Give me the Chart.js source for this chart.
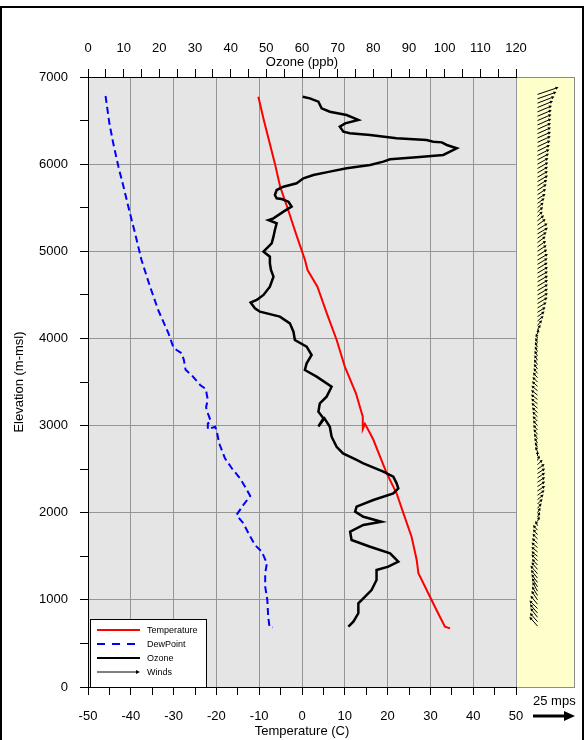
<!DOCTYPE html>
<html>
<head>
<meta charset="utf-8">
<title>Sounding</title>
<script src="https://cdn.jsdelivr.net/npm/chart.js@4.4.1/dist/chart.umd.min.js"></script>
<style>
  body { margin: 0; background: #fff; overflow: hidden; }
  #frame { position: absolute; left: 0; top: 6px; width: 580px; height: 732px; border: 2px solid #000; border-bottom: none; }
  #soundingChart { position: absolute; left: 0; top: 0; }
</style>
</head>
<body>
<div id="frame"></div>
<canvas id="soundingChart" width="586" height="740"></canvas>
<script>
// Temperature (C) against elevation (m-msl)
const tempAlt = [6774, 6500, 6250, 6000, 5741, 5500, 5200, 4900, 4785, 4594, 4288, 3982, 3676, 3370, 3102, 2960, 3020, 2911, 2834, 2624, 2452, 2223, 1993, 1725, 1457, 1305, 1036, 846, 692, 673];
const tempVal = [-10.2, -8.9, -7.6, -6.3, -5.1, -3.4, -1.4, 0.7, 1.3, 3.6, 5.8, 8.1, 10.0, 12.6, 14.2, 14.2, 14.7, 15.9, 16.7, 18.4, 19.8, 22.1, 23.7, 25.6, 26.8, 27.2, 29.9, 31.8, 33.4, 34.6];

// Dew point (C)
const dewAlt = [6782, 6469, 6239, 5972, 5741, 5436, 5206, 4900, 4594, 4326, 4059, 3905, 3867, 3829, 3752, 3640, 3580, 3466, 3416, 3370, 3294, 3217, 3179, 3102, 3045, 3025, 2957, 2987, 2930, 2834, 2777, 2624, 2510, 2395, 2299, 2192, 2089, 1974, 1879, 1764, 1630, 1553, 1420, 1305, 1151, 998, 807, 692, 685];
const dewVal = [-45.9, -45.0, -44.1, -42.9, -41.7, -40.2, -39.0, -37.5, -35.5, -33.6, -31.2, -30.1, -29.3, -28.1, -27.6, -27.2, -25.8, -23.8, -22.4, -22.3, -22.0, -22.4, -22.3, -21.7, -21.3, -22.0, -22.0, -20.3, -19.9, -19.5, -19.2, -18.0, -16.4, -14.5, -13.3, -12.1, -13.7, -15.3, -13.7, -12.5, -11.0, -9.4, -8.2, -8.6, -8.6, -8.1, -7.9, -7.6, -6.8];

// Ozone (ppb)
const ozoneAlt = [6774, 6755, 6717, 6640, 6602, 6564, 6507, 6468, 6430, 6373, 6354, 6335, 6296, 6277, 6258, 6250, 6220, 6182, 6143, 6105, 6078, 6055, 6029, 5991, 5952, 5914, 5876, 5837, 5780, 5741, 5703, 5646, 5608, 5600, 5569, 5512, 5455, 5378, 5359, 5321, 5244, 5168, 5091, 4995, 4938, 4861, 4785, 4709, 4594, 4499, 4441, 4411, 4346, 4307, 4250, 4173, 4078, 3982, 3905, 3810, 3714, 3638, 3561, 3446, 3332, 3255, 3159, 3083, 2990, 3083, 2987, 2872, 2757, 2681, 2605, 2567, 2471, 2413, 2340, 2279, 2222, 2146, 2069, 2012, 1954, 1897, 1859, 1782, 1687, 1610, 1534, 1438, 1381, 1343, 1228, 1113, 1018, 960, 846, 749, 692];
const ozoneVal = [60.2, 62.2, 64.6, 65.5, 67.8, 72.5, 75.8, 72.1, 70.6, 71.6, 73.4, 79.1, 86.5, 94.9, 96.8, 99.2, 100.6, 103.4, 101.5, 99.6, 92.1, 84.7, 82.8, 79.1, 72.5, 67.8, 63.2, 60.4, 58.5, 54.8, 52.9, 52.4, 52.9, 54.3, 56.2, 57.1, 54.8, 52.0, 50.6, 52.9, 52.4, 52.0, 51.5, 49.2, 51.0, 51.0, 51.3, 52.0, 51.0, 49.2, 47.3, 45.6, 46.8, 48.2, 53.8, 56.6, 57.6, 58.0, 61.3, 62.7, 61.3, 60.8, 64.1, 68.3, 66.9, 65.0, 64.6, 66.0, 64.6, 66.3, 67.8, 68.3, 69.7, 71.5, 75.3, 77.2, 82.8, 85.6, 86.5, 87.0, 85.6, 80.0, 75.3, 74.9, 77.2, 82.3, 77.2, 73.5, 73.9, 79.1, 84.7, 87.0, 84.2, 80.9, 80.9, 79.5, 77.2, 75.8, 75.8, 74.4, 73.0];

// Winds: east (u) and north (v) components in mps
const windAlt = [
  700, 750, 800, 850, 900, 950, 1000, 1050, 1100, 1150,
  1200, 1250, 1300, 1350, 1400, 1450, 1500, 1550, 1600, 1650,
  1700, 1750, 1800, 1850, 1900, 1950, 2000, 2050, 2100, 2150,
  2200, 2250, 2300, 2350, 2400, 2450, 2500, 2550, 2600, 2650,
  2700, 2750, 2800, 2850, 2900, 2950, 3000, 3050, 3100, 3150,
  3200, 3250, 3300, 3350, 3400, 3450, 3500, 3550, 3600, 3650,
  3700, 3750, 3800, 3850, 3900, 3950, 4000, 4050, 4100, 4150,
  4200, 4250, 4300, 4350, 4400, 4450, 4500, 4550, 4600, 4650,
  4700, 4750, 4800, 4850, 4900, 4950, 5000, 5050, 5100, 5150,
  5200, 5250, 5300, 5350, 5400, 5450, 5500, 5550, 5600, 5650,
  5700, 5750, 5800, 5850, 5900, 5950, 6000, 6050, 6100, 6150,
  6200, 6250, 6300, 6350, 6400, 6450, 6500, 6550, 6600, 6650,
  6700, 6750, 6800,
];
const windU = [
  -4.8, -4.5, -4.2, -4.5, -4.8, -4.2, -3.6, -3.3, -3.0, -3.3,
  -3.6, -3.9, -4.2, -3.6, -3.3, -3.6, -3.6, -3.6, -3.6, -3.3,
  -3.0, -2.7, -2.7, -1.2, 1.2, 1.5, 1.8, 2.4, 3.0, 3.6,
  4.2, 4.5, 4.5, 4.5, 4.5, 4.5, 4.2, 3.0, 1.2, 0.0,
  -1.2, -1.5, -1.8, -2.1, -2.4, -2.6, -2.7, -2.9, -3.0, -3.3,
  -3.6, -3.8, -3.9, -3.8, -3.6, -3.3, -3.0, -2.7, -2.4, -2.2,
  -2.1, -1.9, -1.8, -1.6, -1.5, -1.2, -0.9, 0.6, 1.8, 2.7,
  3.6, 4.2, 4.8, 5.4, 6.0, 6.2, 6.2, 6.2, 6.2, 6.2,
  6.2, 6.2, 6.0, 6.0, 6.2, 5.8, 5.4, 5.1, 4.8, 5.4,
  6.2, 6.0, 4.8, 3.9, 3.0, 3.3, 3.6, 4.2, 4.8, 5.1,
  5.4, 5.8, 6.2, 6.2, 6.2, 6.4, 6.5, 6.8, 7.1, 7.4,
  7.7, 7.9, 8.0, 8.0, 8.0, 8.2, 8.3, 8.5, 8.6, 9.2,
  10.1, 11.3, 12.5,
];
const windV = [
  5.4, 5.1, 5.4, 5.1, 4.8, 5.1, 5.4, 5.4, 5.4, 5.1,
  4.8, 4.8, 4.8, 4.2, 3.6, 3.6, 3.0, 3.0, 3.0, 3.0,
  3.0, 3.0, 3.0, 3.0, 3.0, 3.0, 3.0, 3.0, 3.0, 3.0,
  3.0, 3.0, 3.0, 3.0, 3.0, 3.0, 3.0, 3.0, 3.0, 3.0,
  3.0, 3.0, 3.0, 3.0, 3.0, 3.0, 3.0, 3.0, 3.0, 3.0,
  3.0, 3.0, 3.0, 3.0, 3.0, 3.0, 3.0, 3.0, 3.0, 3.0,
  3.0, 3.0, 3.0, 3.0, 3.0, 3.0, 3.0, 3.0, 3.0, 3.0,
  3.0, 3.0, 3.0, 3.3, 3.6, 3.6, 3.6, 3.6, 3.6, 3.6,
  3.6, 3.6, 3.6, 3.6, 3.6, 3.6, 3.6, 3.6, 3.6, 3.6,
  3.6, 3.6, 3.6, 3.3, 3.0, 3.0, 3.0, 3.0, 3.0, 3.3,
  3.6, 3.6, 3.6, 3.6, 3.6, 3.6, 3.6, 3.6, 3.6, 3.6,
  3.6, 3.6, 3.6, 3.6, 3.6, 3.6, 3.6, 3.6, 3.6, 3.8,
  3.9, 4.0, 4.2,
];
const refWindSpeed = 25;

// Axis ranges
const tempRange = [-50, 50];
const ozoneRange = [0, 120];
const altRange = [0, 7000];

const toPoints = (alts, vals) => alts.map((a, i) => ({ x: vals[i], y: a }));

const gridGray = "#969696";
const pxPerMps = 42 / refWindSpeed;
const windPanelWidth = 58;

function drawArrow(ctx, x0, y0, x1, y1, head, halfWidth, width) {
  const ang = Math.atan2(y1 - y0, x1 - x0);
  const cos = Math.cos(ang);
  const sin = Math.sin(ang);
  ctx.lineWidth = width;
  ctx.beginPath();
  ctx.moveTo(x0, y0);
  ctx.lineTo(x1 - cos * head * 0.6, y1 - sin * head * 0.6);
  ctx.stroke();
  ctx.beginPath();
  ctx.moveTo(x1, y1);
  ctx.lineTo(x1 - cos * head - sin * halfWidth, y1 - sin * head + cos * halfWidth);
  ctx.lineTo(x1 - cos * head + sin * halfWidth, y1 - sin * head - cos * halfWidth);
  ctx.closePath();
  ctx.fill();
}

const soundingExtras = {
  id: "soundingExtras",
  beforeDraw(chart) {
    const { ctx, chartArea: a } = chart;
    ctx.save();
    ctx.fillStyle = "#e5e5e5";
    ctx.fillRect(a.left, a.top, a.right - a.left, a.bottom - a.top);
    ctx.fillStyle = "#ffffcc";
    ctx.fillRect(a.right, a.top, windPanelWidth, a.bottom - a.top);
    ctx.strokeStyle = "#8c8c8c";
    ctx.lineWidth = 1;
    ctx.strokeRect(a.right + 0.5, a.top + 0.5, windPanelWidth, a.bottom - a.top);
    ctx.restore();
  },
  afterDraw(chart) {
    const { ctx, chartArea: a } = chart;
    const yScale = chart.scales.y;
    ctx.save();

    // wind arrows
    const baseX = a.right + 21.5;
    ctx.strokeStyle = "#000";
    ctx.fillStyle = "#000";
    windAlt.forEach((alt, i) => {
      const by = yScale.getPixelForValue(alt);
      drawArrow(ctx, baseX, by, baseX + windU[i] * pxPerMps, by - windV[i] * pxPerMps, 3, 1.6, 1);
    });

    // reference wind arrow
    ctx.font = "13px 'Liberation Sans', Arial, sans-serif";
    ctx.textAlign = "left";
    ctx.textBaseline = "middle";
    ctx.fillText(refWindSpeed + " mps", a.right + 17, 701);
    drawArrow(ctx, a.right + 17, 716, a.right + 17 + refWindSpeed * pxPerMps, 716, 11, 5, 3);

    // ozone axis title sits under its tick labels
    ctx.textAlign = "center";
    ctx.fillText("Ozone (ppb)", (a.left + a.right) / 2, 62);

    // legend box
    const lx = 90.5, ly = 619.5, lw = 116, lh = 68;
    ctx.fillStyle = "#fff";
    ctx.fillRect(lx, ly, lw, lh);
    ctx.strokeStyle = "#000";
    ctx.lineWidth = 1;
    ctx.strokeRect(lx, ly, lw, lh);
    const items = [
      { text: "Temperature", color: "#ff0000", dash: [], width: 2 },
      { text: "DewPoint", color: "#0000ff", dash: [8, 7], width: 2 },
      { text: "Ozone", color: "#000", dash: [], width: 2 },
      { text: "Winds", color: "#000", dash: [], width: 1, arrow: true },
    ];
    ctx.font = "9px 'Liberation Sans', Arial, sans-serif";
    ctx.textAlign = "left";
    items.forEach((item, i) => {
      const ry = 630 + i * 14;
      ctx.strokeStyle = item.color;
      ctx.fillStyle = item.color;
      if (item.arrow) {
        drawArrow(ctx, 97, ry, 140, ry, 4, 2, 1);
      } else {
        ctx.setLineDash(item.dash);
        ctx.lineWidth = item.width;
        ctx.beginPath();
        ctx.moveTo(97, ry);
        ctx.lineTo(140, ry);
        ctx.stroke();
        ctx.setLineDash([]);
      }
      ctx.fillStyle = "#000";
      ctx.fillText(item.text, 147, ry + 0.5);
    });
    ctx.restore();
  },
};

window.onload = function () {
  Chart.defaults.font.family = "'Liberation Sans', Arial, sans-serif";
  Chart.defaults.font.size = 13;
  Chart.defaults.color = "#000";

  const ctx = document.getElementById("soundingChart");

  new Chart(ctx, {
    type: "scatter",
    data: {
      datasets: [
        {
          label: "Ozone",
          data: toPoints(ozoneAlt, ozoneVal),
          xAxisID: "x2",
          showLine: true,
          borderColor: "#000",
          borderWidth: 2.5,
          pointRadius: 0,
          order: 1,
        },
        {
          label: "Temperature",
          data: toPoints(tempAlt, tempVal),
          xAxisID: "x",
          showLine: true,
          borderColor: "#ff0000",
          borderWidth: 2,
          pointRadius: 0,
          order: 2,
        },
        {
          label: "DewPoint",
          data: toPoints(dewAlt, dewVal),
          xAxisID: "x",
          showLine: true,
          borderColor: "#0000ff",
          borderWidth: 2,
          borderDash: [7, 4],
          pointRadius: 0,
          order: 3,
        },
      ],
    },
    options: {
      responsive: false,
      animation: false,
      layout: { padding: { left: 0, right: 70, top: 0, bottom: 0 } },
      scales: {
        x: {
          type: "linear",
          position: "bottom",
          min: tempRange[0],
          max: tempRange[1],
          afterFit: (scale) => { scale.height = 53; },
          border: { color: "#000", width: 1 },
          grid: {
            tickLength: 8,
            color: (c) => (c.tick && c.tick.value % 10 === 0 && c.tick.value !== tempRange[0] ? gridGray : "transparent"),
            tickColor: "#000",
          },
          ticks: {
            stepSize: 5,
            autoSkip: false,
            maxRotation: 0,
            padding: 14,
            callback: (v) => (v % 10 === 0 ? v : ""),
          },
          title: { display: true, text: "Temperature (C)", padding: { top: 0, bottom: 1 } },
        },
        x2: {
          type: "linear",
          position: "top",
          min: ozoneRange[0],
          max: ozoneRange[1],
          afterFit: (scale) => { scale.height = 77; },
          border: { color: "#000", width: 1 },
          grid: { drawOnChartArea: false, tickLength: 8, tickColor: "#000" },
          ticks: {
            stepSize: 5,
            autoSkip: false,
            maxRotation: 0,
            padding: 13,
            callback: (v) => (v % 10 === 0 ? v : ""),
          },
        },
        y: {
          type: "linear",
          min: altRange[0],
          max: altRange[1],
          afterFit: (scale) => { scale.width = 88; },
          border: { color: "#000", width: 1 },
          grid: {
            tickLength: 8,
            color: (c) => (c.tick && c.tick.value % 1000 === 0 && c.tick.value !== altRange[0] && c.tick.value !== altRange[1] ? gridGray : "transparent"),
            tickColor: "#000",
          },
          ticks: {
            stepSize: 500,
            autoSkip: false,
            padding: 12,
            callback: (v) => (v % 1000 === 0 ? v : ""),
          },
          title: { display: true, text: "Elevation (m-msl)", padding: { top: 12, bottom: 0 } },
        },
      },
      plugins: {
        legend: { display: false },
        tooltip: { enabled: false },
      },
    },
    plugins: [soundingExtras],
  });
};
</script>
</body>
</html>
